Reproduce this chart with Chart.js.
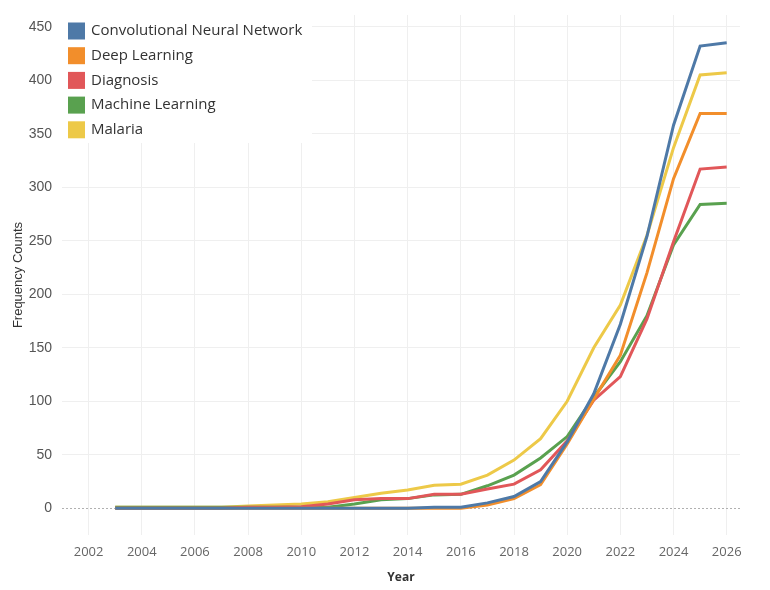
<!DOCTYPE html>
<html>
<head>
<meta charset="utf-8">
<script src="https://cdn.jsdelivr.net/npm/chart.js@4/dist/chart.umd.min.js"></script>
<style>
  html, body { margin: 0; padding: 0; background: #fff; }
  #wrap { width: 770px; height: 590px; position: relative; }
</style>
</head>
<body>
<div id="wrap"><canvas id="chart"></canvas></div>
<script>
// data
const years = [2003, 2004, 2005, 2006, 2007, 2008, 2009, 2010, 2011, 2012, 2013, 2014,
               2015, 2016, 2017, 2018, 2019, 2020, 2021, 2022, 2023, 2024, 2025, 2026];
const seriesNames = ['Convolutional Neural Network', 'Deep Learning', 'Diagnosis', 'Machine Learning', 'Malaria'];
const cnn       = [0, 0, 0, 0, 0, 0, 0, 0, 0, 0, 0, 0, 1, 1, 5, 11, 25, 62, 107, 172, 254, 358, 432, 435];
const deepLearn = [0, 0, 0, 0, 0, 0, 0, 0, 0, 0, 0, 0, 0, 0, 3, 9, 22, 60, 102, 143, 220, 308, 369, 369];
const diagnosis = [0, 0, 0, 0, 0, 1, 1, 1.5, 4, 8, 9, 9, 13, 13, 18, 22.5, 36, 63, 101, 123, 177, 249, 317, 319];
const machine   = [1, 1, 1, 1, 1, 1, 1, 1, 1, 4, 8, 9, 12.5, 13, 21, 31, 47, 67, 104, 137, 180, 246, 284, 285];
const malaria   = [1, 1, 1, 1, 1, 2, 3, 4, 6, 10, 14, 17, 21.5, 22.5, 31, 45, 65, 100, 150, 190, 255, 337, 405, 407];
const colors = ['#4e79a7', '#f28e2b', '#e15759', '#59a14f', '#edc948'];
const xTicks = [2002, 2004, 2006, 2008, 2010, 2012, 2014, 2016, 2018, 2020, 2022, 2024, 2026];
const yTicks = [0, 50, 100, 150, 200, 250, 300, 350, 400, 450];

const allSeries = [cnn, deepLearn, diagnosis, machine, malaria];
const datasets = allSeries.map((vals, i) => ({
  label: seriesNames[i],
  data: vals.map((v, j) => ({ x: years[j], y: v })),
  borderColor: colors[i],
  backgroundColor: colors[i],
  borderWidth: 3,
  pointRadius: 0,
  tension: 0,
  fill: false
}));

// legend box drawn inside the plot, top-left
const boxLegend = {
  id: 'boxLegend',
  afterDraw(chart) {
    const ctx = chart.ctx;
    const a = chart.chartArea;
    ctx.save();
    ctx.fillStyle = '#ffffff';
    ctx.fillRect(a.left, a.top, 250, 128);
    ctx.font = '15px "Open Sans", "Noto Sans", sans-serif';
    ctx.textBaseline = 'middle';
    seriesNames.forEach((name, i) => {
      const cy = a.top + 16 + i * 24.7;
      ctx.fillStyle = colors[i];
      ctx.fillRect(a.left + 6, cy - 8.5, 17, 17);
      ctx.fillStyle = '#333';
      ctx.fillText(name, a.left + 29, cy);
    });
    ctx.restore();
  }
};

Chart.defaults.font.family = '"Liberation Sans", Arial, sans-serif';

new Chart(document.getElementById('chart'), {
  type: 'line',
  data: { datasets },
  plugins: [boxLegend],
  options: {
    responsive: true,
    maintainAspectRatio: false,
    animation: false,
    layout: { padding: { top: 15, right: 30, left: 0, bottom: 0 } },
    plugins: {
      legend: { display: false },
      tooltip: { enabled: false }
    },
    scales: {
      x: {
        type: 'linear',
        min: 2001,
        max: 2026.5,
        afterBuildTicks: s => { s.ticks = xTicks.map(v => ({ value: v })); },
        afterFit: s => { s.height = 55; s.paddingLeft = 0; s.paddingRight = 0; },
        grid: { color: '#efefef', drawTicks: false },
        border: { display: false },
        ticks: {
          color: '#666',
          padding: 9,
          font: { size: 13, family: '"Open Sans", "Noto Sans", sans-serif' },
          callback: v => String(v),
          maxRotation: 0
        },
        title: {
          display: true,
          text: 'Year',
          color: '#333',
          font: { size: 12, weight: 'bold', family: '"Open Sans", sans-serif' },
          padding: { top: 4, bottom: 5 }
        }
      },
      y: {
        min: -25,
        max: 461,
        afterBuildTicks: s => { s.ticks = yTicks.map(v => ({ value: v })); },
        afterFit: s => { s.width = 62; s.paddingTop = 0; s.paddingBottom = 0; },
        grid: {
          drawTicks: false,
          color: ctx => ctx.tick && ctx.tick.value === 0 ? '#b0b0b0' : '#efefef'
        },
        border: {
          display: false,
          dash: ctx => ctx.tick && ctx.tick.value === 0 ? [2, 2] : []
        },
        ticks: {
          color: '#555',
          padding: 10,
          font: { size: 14 }
        },
        title: {
          display: true,
          text: 'Frequency Counts',
          color: '#333',
          font: { size: 13 },
          padding: { top: 11, bottom: 4 }
        }
      }
    }
  }
});
</script>
</body>
</html>
